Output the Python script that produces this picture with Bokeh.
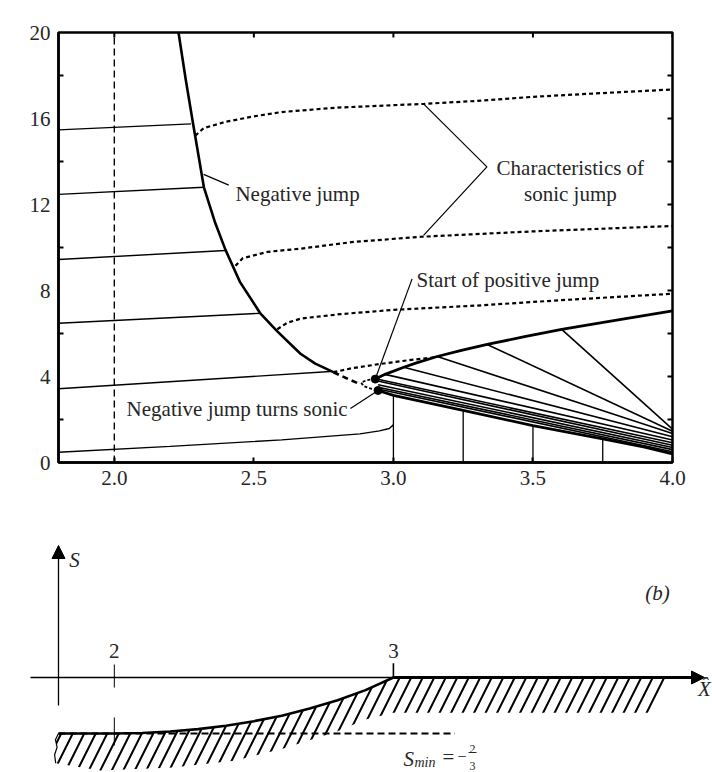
from bokeh.plotting import figure
from bokeh.models import (Range1d, LinearAxis, FixedTicker, Label, Arrow, NormalHead,
                          PrintfTickFormatter)
from bokeh.embed import file_html
from bokeh.resources import INLINE

FONT = "Liberation Serif"
INK = "#262626"
FS = "21px"

# ---------------- panel (a) data ----------------
x_ticks = [2.0, 2.5, 3.0, 3.5, 4.0]
tau_ticks = [0, 4, 8, 12, 16, 20]
tau_minor = [2, 6, 10, 14, 18]
tau_all = [2, 4, 6, 8, 10, 12, 14, 16, 18]

neg_jump_x = [2.230, 2.256, 2.283, 2.321, 2.36, 2.398, 2.45, 2.524, 2.584, 2.667, 2.72, 2.785]
neg_jump_tau = [20.0, 17.8, 15.7, 12.8, 11.2, 9.9, 8.4, 6.92, 6.1, 5.06, 4.6, 4.2]

neg_cont_x = [2.785, 2.83, 2.87]
neg_cont_tau = [4.2, 3.93, 3.7]

loop_x = [2.935, 2.905, 2.884, 2.893, 2.912, 2.945]
loop_tau = [3.88, 3.83, 3.72, 3.56, 3.46, 3.35]

pos_jump_x = [2.935, 2.97, 3.037, 3.08, 3.157, 3.24, 3.336, 3.47, 3.603, 3.8, 4.0]
pos_jump_tau = [3.88, 4.1, 4.43, 4.62, 4.93, 5.2, 5.49, 5.85, 6.19, 6.62, 7.05]

lower_x = [2.945, 3.0, 3.25, 3.5, 3.75, 3.9, 4.0]
lower_tau = [3.35, 3.12, 2.42, 1.72, 1.1, 0.72, 0.4]

vert_x = [3.0, 3.25, 3.5, 3.75]
vert_top = [3.12, 2.42, 1.72, 1.1]

left_chars_x = [[1.8, 2.275], [1.8, 2.321], [1.8, 2.398], [1.8, 2.523], [1.8, 2.774],
                [1.8, 2.2, 2.6, 2.88, 2.95, 2.985, 3.0]]
left_chars_tau = [[15.47, 15.75], [12.47, 12.8], [9.44, 9.86], [6.48, 6.94], [3.43, 4.23],
                  [0.48, 0.75, 1.05, 1.33, 1.47, 1.58, 1.75]]

fan_start_x = [3.603, 3.336, 3.157, 3.037, 2.97, 2.94, 2.94, 2.945, 2.945, 2.945]
fan_start_tau = [6.19, 5.49, 4.93, 4.43, 4.1, 3.88, 3.8, 3.62, 3.5, 3.42]
fan_end_tau = [1.55, 1.45, 1.35, 1.2, 1.05, 0.92, 0.8, 0.7, 0.6, 0.5]

sonic_chars_x = [[2.29, 2.32, 2.4, 2.5, 2.6, 2.79, 3.0, 3.11, 3.3, 3.49, 3.7, 4.0],
                 [2.434, 2.46, 2.55, 2.67, 2.85, 3.1, 3.5, 4.0],
                 [2.584, 2.62, 2.67, 2.81, 3.0, 3.3, 3.6, 4.0],
                 [2.785, 2.85, 2.95, 3.05, 3.15]]
sonic_chars_tau = [[15.2, 15.55, 15.85, 16.1, 16.3, 16.5, 16.62, 16.68, 16.82, 17.0, 17.15, 17.35],
                   [9.15, 9.5, 9.8, 9.95, 10.25, 10.5, 10.75, 11.0],
                   [6.2, 6.5, 6.7, 6.9, 7.1, 7.3, 7.55, 7.85],
                   [4.2, 4.38, 4.58, 4.75, 4.9]]

start_pt = (2.935, 3.88)
sonic_pt = (2.945, 3.35)

# ---------------- panel (b) data ----------------
s_curve_x = [1.8, 2.0, 2.1, 2.2, 2.3, 2.4, 2.5, 2.6, 2.7, 2.8, 2.9, 3.0]
s_curve_s = [-0.667, -0.667, -0.66, -0.643, -0.615, -0.575, -0.52, -0.455, -0.37, -0.27, -0.15, 0.0]
hatch_low_x = [3.914, 3.0, 2.9, 2.8, 2.6, 2.43, 2.21, 1.95, 1.79]
hatch_low_s = [-0.42, -0.42, -0.5, -0.64, -0.85, -0.99, -1.07, -1.107, -1.02]
left_edge_x = [1.79, 1.786, 1.795, 1.789, 1.8]
left_edge_s = [-1.02, -0.92, -0.83, -0.74, -0.667]
s_min = -2.0 / 3.0

# ---------------- geometry ----------------
W = 712
H1 = 520
H2 = 252
XL, XR = 1.8, 4.0
FRAME_L, FRAME_R = 58, 40
PX = (W - FRAME_L - FRAME_R) / (XR - XL)
TPX = 430 / 20.0


def xpx(px):
    return XL + (px - FRAME_L) / PX


p = figure(width=W, height=H1, x_range=Range1d(XL, XR), y_range=Range1d(0, 20),
           output_backend="svg", toolbar_location=None,
           min_border_left=FRAME_L, min_border_right=FRAME_R,
           min_border_top=32, min_border_bottom=58,
           x_axis_location=None, y_axis_location=None)
p.grid.visible = False
p.outline_line_color = "black"
p.outline_line_width = 2.5
p.background_fill_color = "white"
p.border_fill_color = "white"


def style_axis(ax):
    ax.axis_line_width = 2.5
    ax.axis_line_color = "black"
    ax.major_tick_line_width = 2
    ax.minor_tick_line_width = 2
    ax.major_tick_out = 0
    ax.minor_tick_out = 0
    ax.major_tick_in = 5
    ax.minor_tick_in = 5
    ax.major_label_text_font = FONT
    ax.major_label_text_font_size = FS
    ax.major_label_text_color = INK
    ax.major_label_standoff = 8


bx = LinearAxis(ticker=FixedTicker(ticks=x_ticks, minor_ticks=[]),
                formatter=PrintfTickFormatter(format="%.1f"))
style_axis(bx)
p.add_layout(bx, "below")
ly = LinearAxis(ticker=FixedTicker(ticks=tau_ticks, minor_ticks=tau_minor))
style_axis(ly)
ly.major_tick_in = 0
p.add_layout(ly, "left")

# inward ticks on the top and right edges of the frame
p.segment(x0=x_ticks, y0=[20] * len(x_ticks), x1=x_ticks, y1=[20 - 5 / TPX] * len(x_ticks),
          line_color="black", line_width=2)
p.segment(x0=[4.0] * len(tau_all), y0=tau_all, x1=[4.0 - 5 / PX] * len(tau_all), y1=tau_all,
          line_color="black", line_width=2)

# vertical dashed line at X=2
p.line([2.0, 2.0], [0, 20], line_color="black", line_width=1.4, line_dash="7 4")

# left characteristics
p.multi_line(left_chars_x, left_chars_tau, line_color="black", line_width=1.4)

# vertical characteristics under the fan
p.multi_line([[vx, vx] for vx in vert_x], [[0, vt] for vt in vert_top],
             line_color="black", line_width=1.3)

# fan
p.multi_line([[sx, 4.0] for sx in fan_start_x],
             [[st, et] for st, et in zip(fan_start_tau, fan_end_tau)],
             line_color="black", line_width=1.6)

# sonic jump characteristics (dotted)
p.multi_line(sonic_chars_x, sonic_chars_tau, line_color="black", line_width=2.2, line_dash="4 3")

# jumps
p.line(neg_jump_x, neg_jump_tau, line_color="black", line_width=2.6, line_join="round")
p.line(neg_cont_x, neg_cont_tau, line_color="black", line_width=2.6, line_dash="6 4")
p.line(loop_x, loop_tau, line_color="black", line_width=1.8, line_dash="3 2")
p.line(pos_jump_x, pos_jump_tau, line_color="black", line_width=2.8, line_join="round")
p.line(lower_x, lower_tau, line_color="black", line_width=2.8, line_join="round")

p.scatter([start_pt[0], sonic_pt[0]], [start_pt[1], sonic_pt[1]], size=8, color="black")

# leader lines
p.line([2.32, 2.41], [13.4, 12.9], line_color="black", line_width=1.2)
p.line([3.108, 3.335, 3.108], [16.68, 13.75, 10.56], line_color="black", line_width=1.2)
p.line([start_pt[0], 3.067], [start_pt[1], 8.54], line_color="black", line_width=1.2)
p.line([sonic_pt[0], 2.846], [sonic_pt[1], 2.51], line_color="black", line_width=1.2)


def lab(fig, x, y, text, align="left", baseline="middle", size=FS, style="normal"):
    fig.add_layout(Label(x=x, y=y, text=text, text_align=align, text_baseline=baseline,
                         text_font=FONT, text_font_size=size, text_color=INK,
                         text_font_style=style))


lab(p, 2.434, 12.5, "Negative jump")
lab(p, 3.634, 13.72, "Characteristics of", align="center")
lab(p, 3.634, 12.5, "sonic jump", align="center")
lab(p, 3.083, 8.5, "Start of positive jump")
lab(p, 2.044, 2.51, "Negative jump turns sonic")
lab(p, xpx(12), 9.95, "\u03c4", align="center", style="italic")
lab(p, xpx(360), -2.1, "X\u0302", align="center", style="italic")
lab(p, xpx(658), 20.8, "(a)", align="center", style="italic")

# ---------------- panel (b): its own root, frame spanning the full width ----------------
SPX = 84.0
S0_Y = 677 - H1
q = figure(width=W, height=H2, x_range=Range1d(xpx(0), xpx(W)),
           y_range=Range1d(-(H2 - S0_Y) / SPX, S0_Y / SPX),
           output_backend="svg", toolbar_location=None,
           min_border=0, min_border_left=0, min_border_right=0,
           min_border_top=0, min_border_bottom=0,
           x_axis_location=None, y_axis_location=None)
q.grid.visible = False
q.outline_line_color = None
q.background_fill_color = "white"
q.border_fill_color = "white"

hx = s_curve_x + [xpx(673)] + hatch_low_x + left_edge_x
hs = s_curve_s + [0.0] + hatch_low_s + left_edge_s
q.patch(hx, hs, fill_alpha=0, line_alpha=0, hatch_pattern="/", hatch_color="black",
        hatch_weight=2.0, hatch_scale=23)

q.line(left_edge_x, left_edge_s, line_color="black", line_width=1.2)
q.line([1.8, 3.22], [s_min, s_min], line_color="black", line_width=2.2, line_dash="7 4")
q.line(s_curve_x, s_curve_s, line_color="black", line_width=2.6, line_join="round")

# axes with arrows
q.add_layout(Arrow(end=NormalHead(size=13, fill_color="black", line_color="black"),
                   x_start=xpx(30), y_start=0, x_end=xpx(704), y_end=0,
                   line_color="black", line_width=1.3))
q.line([3.0, xpx(692)], [0, 0], line_color="black", line_width=3)
q.add_layout(Arrow(end=NormalHead(size=13, fill_color="black", line_color="black"),
                   x_start=1.8, y_start=(677 - 705) / SPX, x_end=1.8, y_end=(677 - 545) / SPX,
                   line_color="black", line_width=1.3))

# ticks at 2 and 3
q.line([2.0, 2.0], [0.155, -0.12], line_color="black", line_width=1.0)
q.line([2.0, 2.0], [-0.476, -0.81], line_color="black", line_width=1.0)
q.line([3.0, 3.0], [0.17, 0.0], line_color="black", line_width=1.6)

lab(q, 2.0, 0.31, "2", align="center")
lab(q, 3.0, 0.31, "3", align="center")
lab(q, xpx(74), (677 - 559) / SPX, "S", align="center", style="italic")
lab(q, xpx(657), (677 - 592) / SPX, "(b)", align="center", style="italic")
lab(q, xpx(704), (677 - 688) / SPX, "X\u0302", align="center", style="italic")

# S_min = -2/3
lab(q, xpx(403), (677 - 758) / SPX, "S", baseline="alphabetic", style="italic")
lab(q, xpx(414), (677 - 762) / SPX, "min", baseline="alphabetic", size="14px", style="italic")
lab(q, xpx(442), (677 - 756) / SPX, "=", baseline="alphabetic")
lab(q, xpx(457), (677 - 756) / SPX, "\u2212", baseline="alphabetic", size="16px")
lab(q, xpx(472), (677 - 748) / SPX, "2", align="center", baseline="alphabetic", size="12px")
lab(q, xpx(472), (677 - 765) / SPX, "3", align="center", baseline="alphabetic", size="12px")
q.line([xpx(468), xpx(476)], [(677 - 752) / SPX] * 2, line_color=INK, line_width=1)

open("out.html", "w").write(file_html([p, q], INLINE))
